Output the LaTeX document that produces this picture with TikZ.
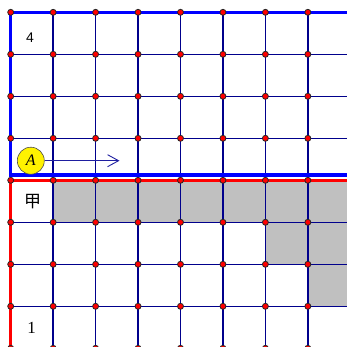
\documentclass[tikz,border=0pt]{standalone}
\usepackage{fontspec}
\setmainfont{Liberation Serif}
\newfontfamily\sansf{Liberation Sans}
\newfontfamily\cjk{Noto Sans CJK SC}
\usetikzlibrary{arrows.meta}
\definecolor{gridnavy}{RGB}{0,0,140}
\definecolor{arrownavy}{RGB}{30,30,160}
\definecolor{cellgray}{RGB}{192,192,192}
\begin{document}
\begin{tikzpicture}[x=1pt,y=-1pt,
  gridline/.style={draw=gridnavy,line width=1.4pt},
  blueframe/.style={draw=blue,line width=3.5pt},
  redframe/.style={draw=red,line width=3.5pt},
  vertex/.style={circle,fill=red,draw=black!85,line width=0.8pt,inner sep=0pt,minimum size=6pt},
  marker/.style={circle,fill=yellow,draw=black!70,line width=0.6pt,inner sep=0pt,minimum size=27pt,font=\itshape\fontsize{16}{16}\selectfont},
  arrowline/.style={draw=arrownavy,line width=0.9pt,-{Straight Barb[length=11pt,width=12pt,line width=0.9pt]}},
  textlabel/.style={inner sep=0pt}]
\useasboundingbox (0,0) rectangle (347,347);
\clip (0,0) rectangle (347,347);
% shaded cells
\fill[cellgray] (53.15,180.3) rectangle (360,222.3);
\fill[cellgray] (265.6,222.3) rectangle (360,264.3);
\fill[cellgray] (308.05,264.3) rectangle (360,306.3);
% grid lines
\foreach \i in {1,...,7}
  \draw[gridline] ({10.7+42.45*\i},12.3) -- ({10.7+42.45*\i},360);
\foreach \j in {1,...,7}
  \draw[gridline] (10.7,{12.3+42*\j}) -- (360,{12.3+42*\j});
% frames
\draw[blueframe] (360,12.3) -- (10.7,12.3) -- (10.7,175.2) -- (360,175.2);
\draw[redframe] (360,180.5) -- (10.7,180.5) -- (10.7,348.6) -- (360,348.6);
% vertices
\foreach \i in {0,...,8}
  \foreach \j in {0,...,8}
    \node[vertex] (v\i\j) at ({10.7+42.45*\i},{12.3+42*\j}) {};
% marker and arrow
\node[marker] (A) at (30.8,160.7) {A};
\coordinate (tip) at (119.5,160.7);
\draw[arrowline] (A) -- (tip);
% labels
\node[textlabel,font=\sansf\fontsize{14}{14}\selectfont] (four) at (30,37.3) {4};
\node[textlabel,font=\fontsize{17}{17}\selectfont] (one) at (31.5,328) {1};
\node[textlabel,font=\cjk\fontsize{17}{17}\selectfont] (jia) at (32.5,201.5) {甲};
\end{tikzpicture}
\end{document}
